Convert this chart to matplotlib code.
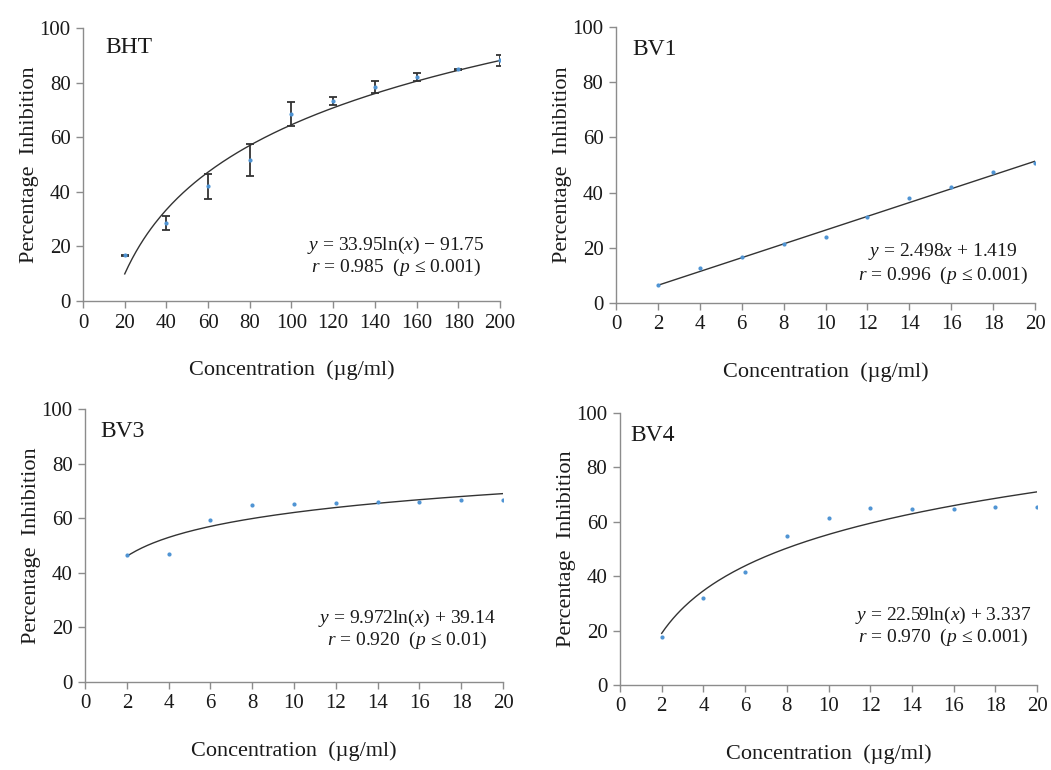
import numpy as np
import matplotlib.pyplot as plt

plt.rcParams['font.family'] = ['Liberation Serif', 'DejaVu Serif']
plt.rcParams['mathtext.fontset'] = 'custom'
plt.rcParams['mathtext.rm'] = 'Liberation Serif'
plt.rcParams['mathtext.it'] = 'Liberation Serif:italic'

# BHT: concentrations 20-200 ug/ml, mean inhibition and SD
bht_x = [20, 40, 60, 80, 100, 120, 140, 160, 180, 200]
bht_y = [16.7, 28.6, 42.0, 51.7, 68.6, 73.2, 78.4, 82.1, 84.9, 88.2]
bht_err = [0.3, 2.7, 4.6, 5.7, 4.4, 1.5, 2.1, 1.5, 0.3, 2.1]

# extracts: concentrations 2-20 ug/ml
bv_x = [2, 4, 6, 8, 10, 12, 14, 16, 18, 20]
bv1_y = [6.7, 12.6, 16.8, 21.5, 24.0, 31.1, 37.9, 42.1, 47.5, 50.6]
bv3_y = [46.5, 46.9, 59.3, 65.0, 65.3, 65.6, 65.9, 65.9, 66.5, 66.8]
bv4_y = [17.6, 32.1, 41.4, 54.9, 61.5, 65.0, 64.6, 64.7, 65.3, 65.6]

# fitted trend lines
fit_bht = (33.95, -91.75)
fit_bv1 = (2.498, 1.419)
fit_bv3 = (9.972, 39.14)
fit_bv4 = (22.59, 3.337)

point_col = '#4f94d4'
line_col = '#333333'
axis_col = '#8c8c8c'
text_col = '#1a1a1a'

fig = plt.figure(figsize=(10.51, 7.7), dpi=100)


def setup(ax, name, xmax, name_pos):
    ax.set_xlim(0, xmax)
    ax.set_ylim(0, 100)
    ax.set_xticks(np.linspace(0, xmax, 11))
    ax.set_yticks(range(0, 101, 20))
    for s in ['top', 'right']:
        ax.spines[s].set_visible(False)
    for s in ['left', 'bottom']:
        ax.spines[s].set_color(axis_col)
        ax.spines[s].set_linewidth(1.0)
    ax.tick_params(colors=axis_col, labelcolor=text_col, labelsize=15,
                   length=5, width=1.0, pad=4)
    ax.set_xlabel('Concentration  (µg/ml)', fontsize=16, labelpad=20, color=text_col)
    ax.set_ylabel('Percentage  Inhibition', fontsize=16, labelpad=0, color=text_col)
    ax.text(name_pos[0], name_pos[1], name, transform=ax.transAxes, fontsize=17,
            va='center', ha='left', color=text_col)


def eq_text(ax, x, y1, y2, line1, line2):
    ax.text(x, y1, line1, fontsize=14, ha='center', va='center', color=text_col)
    ax.text(x, y2, line2, fontsize=14, ha='center', va='center', color=text_col)


# BHT
ax1 = fig.add_axes([0.079, 0.609, 0.3967, 0.3545])
xs = np.linspace(20, 200, 200)
ax1.plot(xs, fit_bht[0] * np.log(xs) + fit_bht[1], color=line_col, lw=1.0)
ax1.errorbar(bht_x, bht_y, yerr=bht_err, fmt='none', ecolor=line_col,
             elinewidth=1.3, capsize=2.8, capthick=1.3)
ax1.plot(bht_x, bht_y, 'o', ms=2, color=point_col)
setup(ax1, 'BHT', 200, (0.053, 0.93))
eq_text(ax1, 150, 20.3, 12.4,
        r'$y$ = 33.95ln($x$) $-$ 91.75', r'$r$ = 0.985  ($p$ ≤ 0.001)')

# BV1
ax2 = fig.add_axes([0.5861, 0.6065, 0.3987, 0.3584])
xs = np.linspace(2, 20, 200)
ax2.plot(xs, fit_bv1[0] * xs + fit_bv1[1], color=line_col, lw=1.0)
ax2.plot(bv_x, bv1_y, 'o', ms=2, color=point_col)
setup(ax2, 'BV1', 20, (0.038, 0.917))
eq_text(ax2, 15.6, 18.5, 10.1,
        r'$y$ = 2.498$x$ + 1.419', r'$r$ = 0.996  ($p$ ≤ 0.001)')

# BV3
ax3 = fig.add_axes([0.0809, 0.1143, 0.3977, 0.3545])
ax3.plot(xs, fit_bv3[0] * np.log(xs) + fit_bv3[1], color=line_col, lw=1.0)
ax3.plot(bv_x, bv3_y, 'o', ms=2, color=point_col)
setup(ax3, 'BV3', 20, (0.036, 0.916))
eq_text(ax3, 15.4, 23.4, 15.4,
        r'$y$ = 9.972ln($x$) + 39.14', r'$r$ = 0.920  ($p$ ≤ 0.01)')

# BV4
ax4 = fig.add_axes([0.5899, 0.1104, 0.3968, 0.3532])
ax4.plot(xs, fit_bv4[0] * np.log(xs) + fit_bv4[1], color=line_col, lw=1.0)
ax4.plot(bv_x, bv4_y, 'o', ms=2, color=point_col)
setup(ax4, 'BV4', 20, (0.024, 0.919))
eq_text(ax4, 15.5, 25.4, 17.6,
        r'$y$ = 22.59ln($x$) + 3.337', r'$r$ = 0.970  ($p$ ≤ 0.001)')

fig.savefig('out.png', dpi=100)
